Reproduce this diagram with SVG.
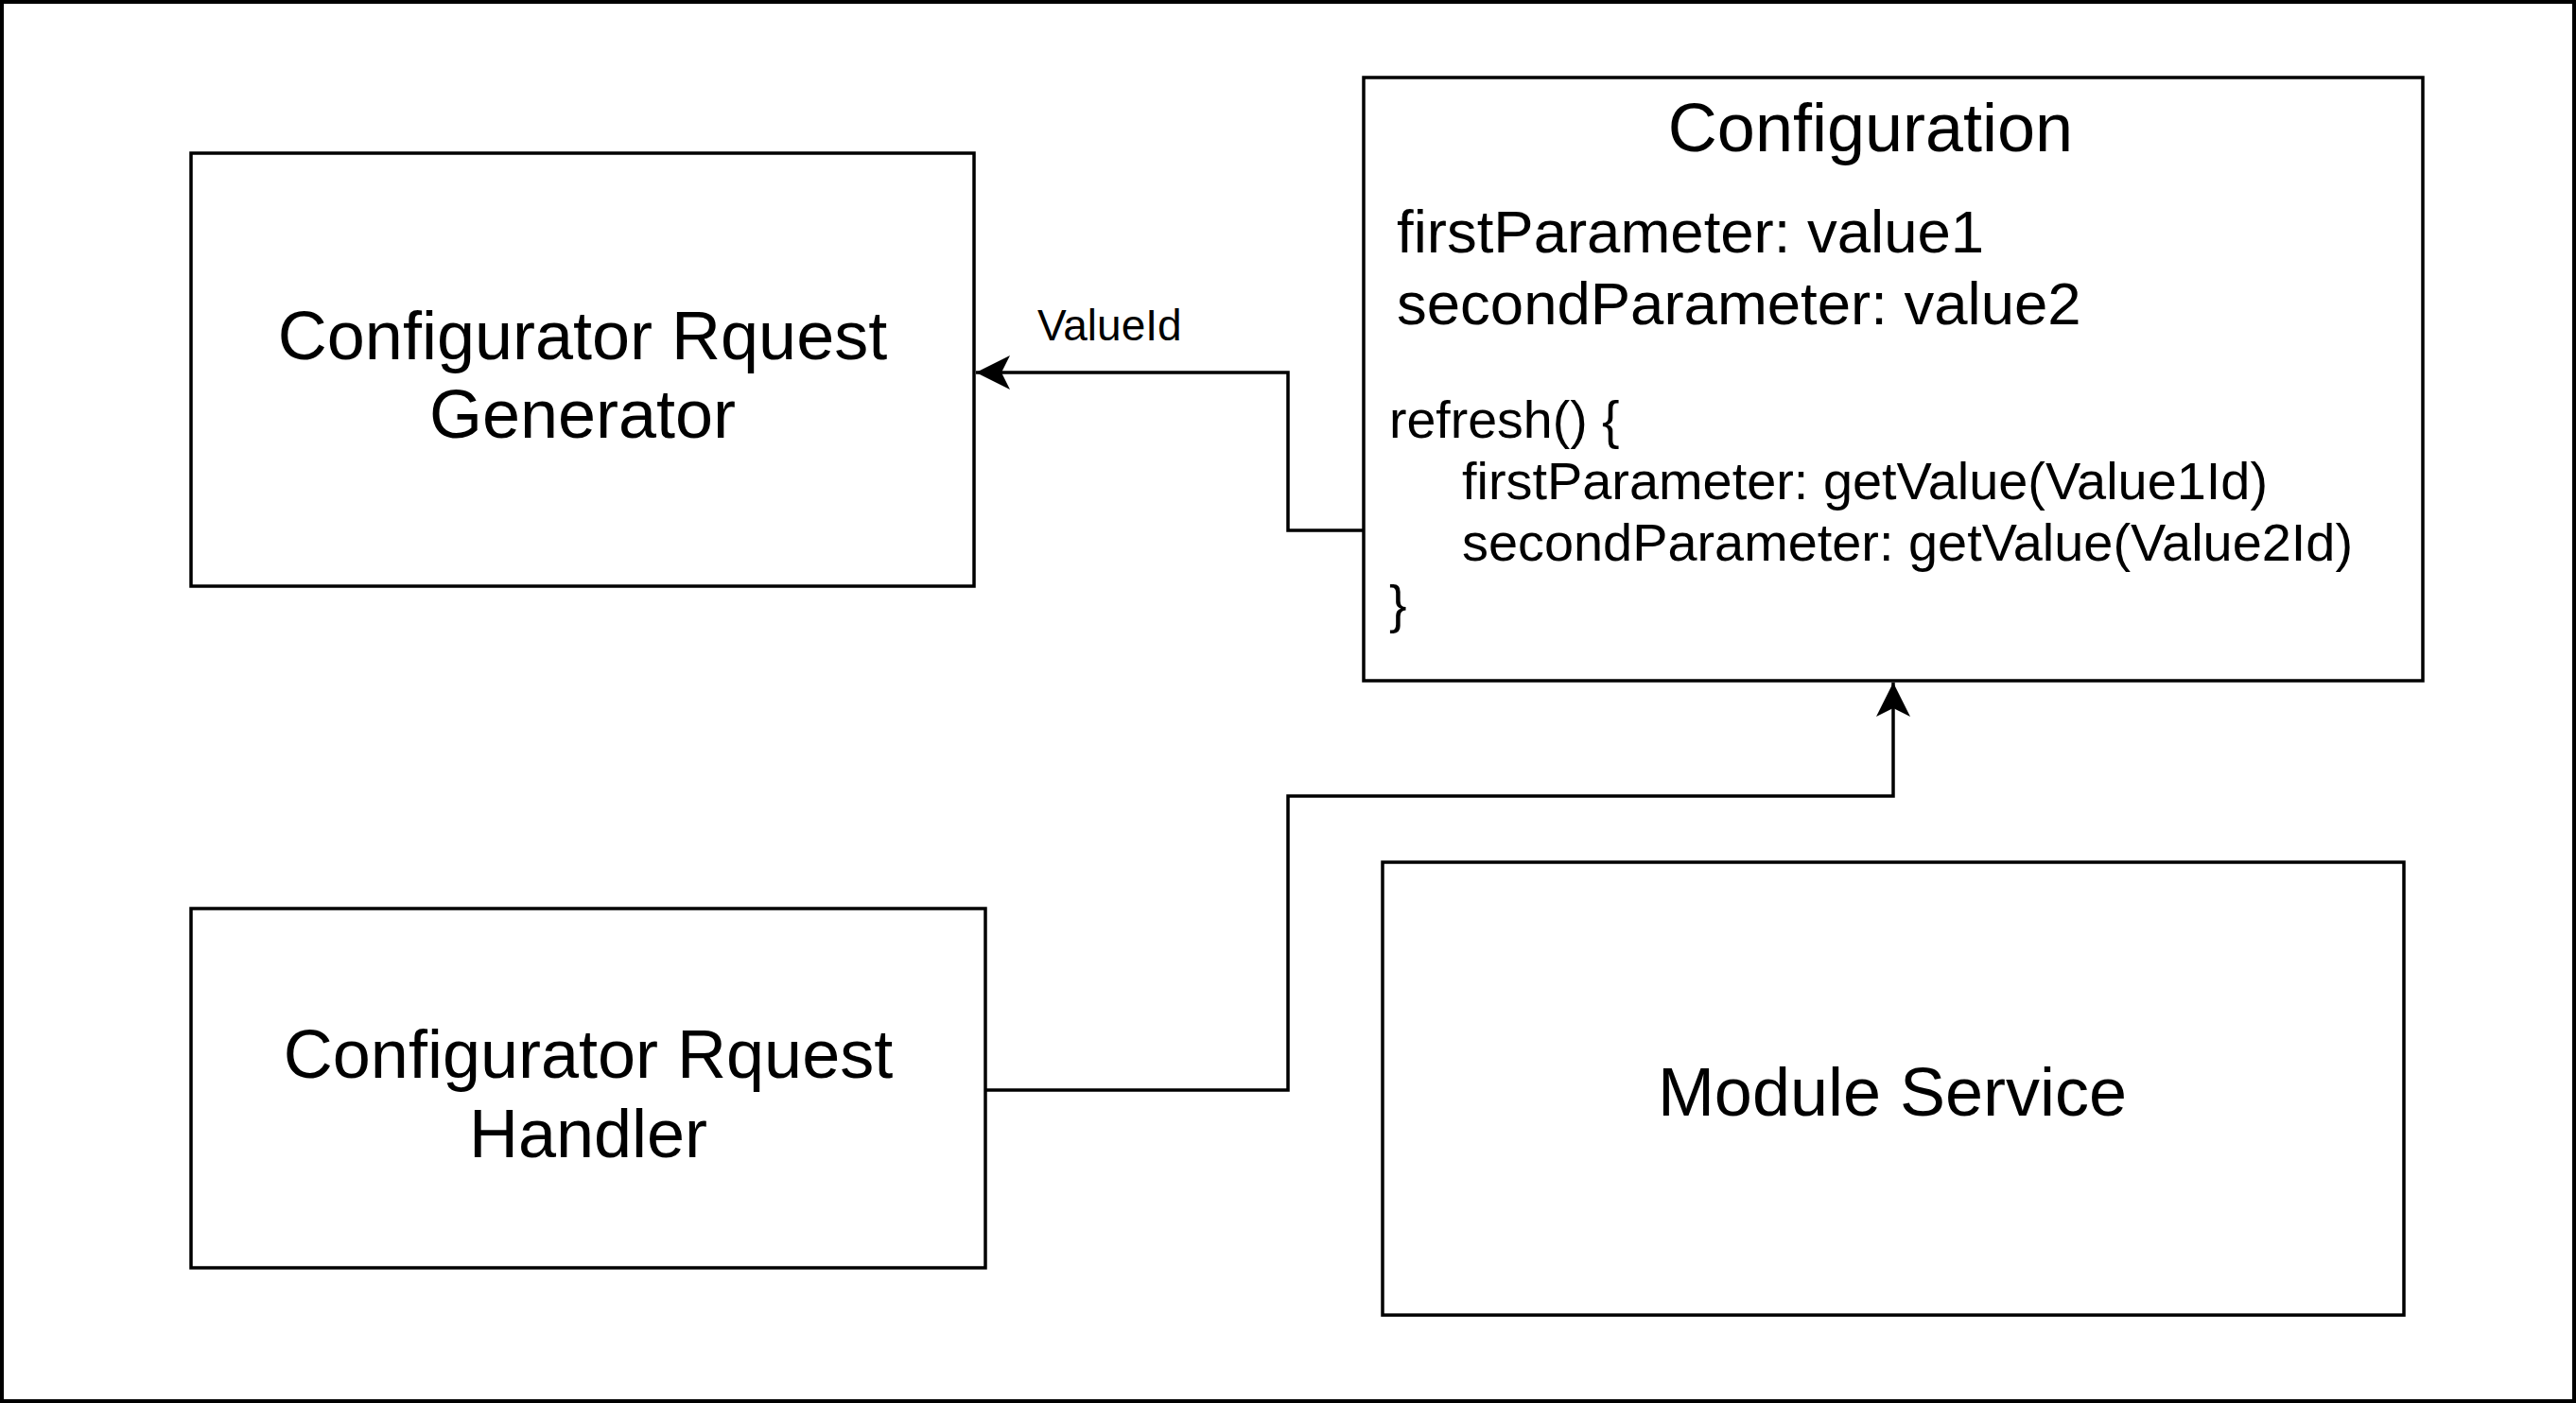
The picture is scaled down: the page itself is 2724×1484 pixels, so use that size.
<svg xmlns="http://www.w3.org/2000/svg" width="2724" height="1484" viewBox="0 0 2724 1484">
  <style>
    .box { fill: #ffffff; stroke: #000000; stroke-width: 3.5; }
    .conn { fill: none; stroke: #000000; stroke-width: 3.5; }
    .t { font-family: "Liberation Sans", Arial, Helvetica, sans-serif; fill: #000000; }
    .big { font-size: 72px; }
    .mid { font-size: 63.5px; }
    .code { font-size: 55.5px; }
    .lbl { font-size: 46px; }
  </style>
  <defs>
    <marker id="arrow" viewBox="0 0 36 36" refX="36" refY="18" markerWidth="36" markerHeight="36" markerUnits="userSpaceOnUse" orient="auto">
      <path d="M0,0 L36,18 L0,36 L9,18 Z" fill="#000000"/>
    </marker>
  </defs>
  <rect x="0" y="0" width="2724" height="1484" fill="#ffffff"/>
  <rect id="frame" x="2" y="2" width="2720" height="1480" fill="none" stroke="#000000" stroke-width="4"/>

  <g id="generator">
    <rect class="box" x="202" y="162" width="828" height="458"/>
    <text class="t big" x="616" y="380" text-anchor="middle">Configurator Rquest</text>
    <text class="t big" x="616" y="463" text-anchor="middle">Generator</text>
  </g>

  <g id="configuration">
    <rect class="box" x="1442" y="82" width="1120" height="638"/>
    <text class="t big" x="1978" y="160" text-anchor="middle">Configuration</text>
    <text class="t mid" x="1477" y="267">firstParameter: value1</text>
    <text class="t mid" x="1477" y="343">secondParameter: value2</text>
    <text class="t code" x="1469" y="463">refresh() {</text>
    <text class="t code" x="1546" y="528" textLength="852" lengthAdjust="spacingAndGlyphs">firstParameter: getValue(Value1Id)</text>
    <text class="t code" x="1546" y="593" textLength="942" lengthAdjust="spacingAndGlyphs">secondParameter: getValue(Value2Id)</text>
    <text class="t code" x="1469" y="658">}</text>
  </g>

  <g id="handler">
    <rect class="box" x="202" y="961" width="840" height="380"/>
    <text class="t big" x="622" y="1140" text-anchor="middle">Configurator Rquest</text>
    <text class="t big" x="622" y="1224" text-anchor="middle">Handler</text>
  </g>

  <g id="module-service">
    <rect class="box" x="1462" y="912" width="1080" height="479"/>
    <text class="t big" x="2001" y="1180" text-anchor="middle">Module Service</text>
  </g>

  <g id="connectors">
    <path class="conn" d="M1442,561 H1362 V394 H1032" marker-end="url(#arrow)"/>
    <text class="t lbl" x="1097" y="360">ValueId</text>
    <path class="conn" d="M1042,1153 H1362 V842 H2002 V722" marker-end="url(#arrow)"/>
  </g>
</svg>
